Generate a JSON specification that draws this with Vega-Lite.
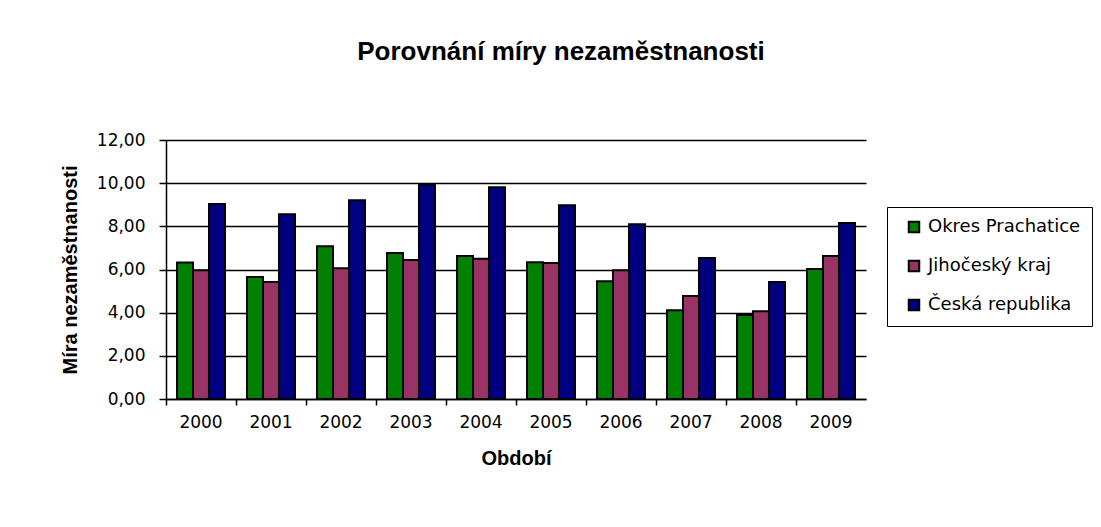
{
  "$schema": "https://vega.github.io/schema/vega-lite/v6.json",
  "width": 700,
  "height": 259,
  "autosize": "none",
  "padding": {"left": 166, "top": 140, "right": 235, "bottom": 128},
  "background": "white",
  "title": {
    "text": "Porovnání míry nezaměstnanosti",
    "font": "Liberation Sans",
    "fontSize": 26,
    "fontWeight": "bold",
    "color": "black",
    "anchor": "middle",
    "frame": "group",
    "dx": 45,
    "offset": 66
  },
  "data": {
    "values": [
      {"year": "2000", "series": "Okres Prachatice", "value": 6.33},
      {"year": "2000", "series": "Jihočeský kraj", "value": 5.96},
      {"year": "2000", "series": "Česká republika", "value": 9.04},
      {"year": "2001", "series": "Okres Prachatice", "value": 5.65},
      {"year": "2001", "series": "Jihočeský kraj", "value": 5.42},
      {"year": "2001", "series": "Česká republika", "value": 8.56},
      {"year": "2002", "series": "Okres Prachatice", "value": 7.08},
      {"year": "2002", "series": "Jihočeský kraj", "value": 6.06},
      {"year": "2002", "series": "Česká republika", "value": 9.21},
      {"year": "2003", "series": "Okres Prachatice", "value": 6.76},
      {"year": "2003", "series": "Jihočeský kraj", "value": 6.44},
      {"year": "2003", "series": "Česká republika", "value": 9.94},
      {"year": "2004", "series": "Okres Prachatice", "value": 6.62},
      {"year": "2004", "series": "Jihočeský kraj", "value": 6.5},
      {"year": "2004", "series": "Česká republika", "value": 9.81},
      {"year": "2005", "series": "Okres Prachatice", "value": 6.34},
      {"year": "2005", "series": "Jihočeský kraj", "value": 6.3},
      {"year": "2005", "series": "Česká republika", "value": 8.98},
      {"year": "2006", "series": "Okres Prachatice", "value": 5.46},
      {"year": "2006", "series": "Jihočeský kraj", "value": 5.96},
      {"year": "2006", "series": "Česká republika", "value": 8.1},
      {"year": "2007", "series": "Okres Prachatice", "value": 4.11},
      {"year": "2007", "series": "Jihočeský kraj", "value": 4.77},
      {"year": "2007", "series": "Česká republika", "value": 6.53},
      {"year": "2008", "series": "Okres Prachatice", "value": 3.89},
      {"year": "2008", "series": "Jihočeský kraj", "value": 4.07},
      {"year": "2008", "series": "Česká republika", "value": 5.42},
      {"year": "2009", "series": "Okres Prachatice", "value": 6.02},
      {"year": "2009", "series": "Jihočeský kraj", "value": 6.62},
      {"year": "2009", "series": "Česká republika", "value": 8.15}
    ]
  },
  "mark": {"type": "bar", "stroke": "black", "strokeWidth": 2},
  "encoding": {
    "x": {
      "field": "year",
      "type": "nominal",
      "scale": {"paddingInner": 0, "paddingOuter": 0},
      "axis": {
        "title": "Období",
        "titleFont": "Liberation Sans",
        "titleFontSize": 20,
        "titleFontWeight": "bold",
        "titleColor": "black",
        "titlePadding": 18,
        "labelFont": "DejaVu Sans",
        "labelFontSize": 17,
        "labelColor": "black",
        "labelAngle": 0,
        "labelPadding": 9,
        "tickSize": 6,
        "tickColor": "black",
        "tickWidth": 1.5,
        "bandPosition": 0,
        "domainColor": "black",
        "domainWidth": 1.5
      }
    },
    "xOffset": {
      "field": "series",
      "type": "nominal",
      "sort": ["Okres Prachatice", "Jihočeský kraj", "Česká republika"],
      "scale": {"paddingInner": 0, "paddingOuter": 0.69}
    },
    "y": {
      "field": "value",
      "type": "quantitative",
      "scale": {"domain": [0, 12]},
      "axis": {
        "title": "Míra nezaměstnanosti",
        "titleFont": "Liberation Sans",
        "titleFontSize": 20,
        "titleFontWeight": "bold",
        "titleColor": "black",
        "titlePadding": 16,
        "values": [0, 2, 4, 6, 8, 10, 12],
        "labelExpr": "replace(format(datum.value, '.2f'), '.', ',')",
        "labelFont": "DejaVu Sans",
        "labelFontSize": 17,
        "labelColor": "black",
        "labelPadding": 14,
        "tickSize": 7,
        "tickColor": "black",
        "tickWidth": 1.5,
        "domainColor": "black",
        "domainWidth": 1.5,
        "grid": true,
        "gridColor": "black",
        "gridWidth": 1.5
      }
    },
    "color": {
      "field": "series",
      "type": "nominal",
      "sort": ["Okres Prachatice", "Jihočeský kraj", "Česká republika"],
      "scale": {
        "domain": ["Okres Prachatice", "Jihočeský kraj", "Česká republika"],
        "range": ["#008000", "#993366", "#000080"]
      },
      "legend": {
        "title": null,
        "orient": "none",
        "legendX": 721,
        "legendY": 67,
        "padding": 11,
        "rowPadding": 19,
        "strokeColor": "black",
        "fillColor": "white",
        "symbolType": "square",
        "symbolSize": 110,
        "symbolStrokeColor": "black",
        "symbolStrokeWidth": 2,
        "symbolOffset": 7,
        "labelFont": "DejaVu Sans",
        "labelFontSize": 18,
        "labelColor": "black",
        "labelOffset": 5,
        "labelLimit": 300
      }
    }
  },
  "config": {
    "view": {"stroke": null}
  }
}
